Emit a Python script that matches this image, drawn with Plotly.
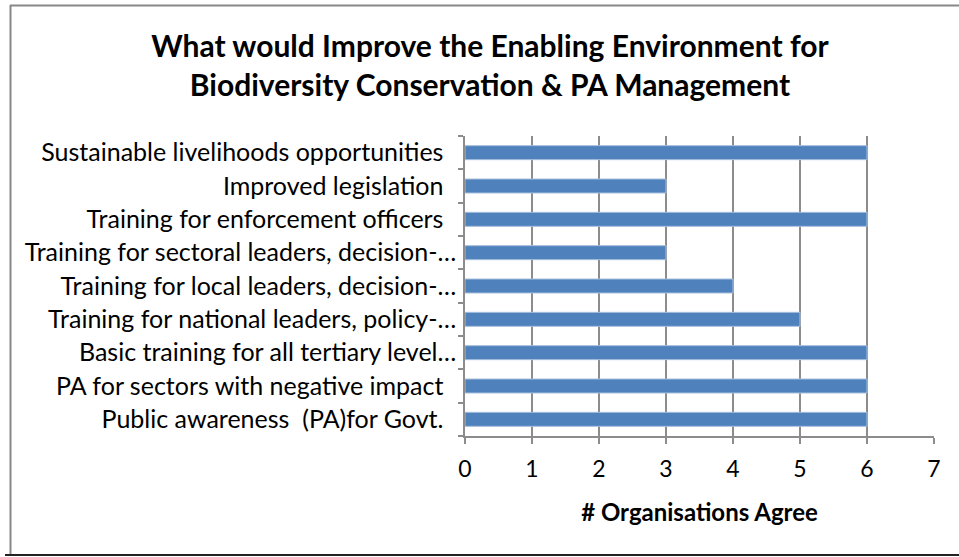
import plotly.graph_objects as go

# Survey responses: number of organisations agreeing with each measure
categories = [
    "Public awareness  (PA)for Govt.",
    "PA for sectors with negative impact",
    "Basic training for all tertiary level…",
    "Training for national leaders, policy-…",
    "Training for local leaders, decision-…",
    "Training for sectoral leaders, decision-…",
    "Training for enforcement officers",
    "Improved legislation",
    "Sustainable livelihoods opportunities",
]
agree_counts = [6, 6, 6, 5, 4, 3, 6, 3, 6]
x_ticks = [0, 1, 2, 3, 4, 5, 6, 7]

W, H = 959, 557
M_L, M_R, M_T, M_B = 465, 25, 136, 121
plot_w = W - M_L - M_R
plot_h = H - M_T - M_B


def px_x(px):
    return (px - M_L) / plot_w


def px_y(py):
    return (H - M_B - py) / plot_h


# pad the untruncated labels so they sit left of the ellipsis ones
labels = [c if c.endswith("…") else c + "\u00a0\u00a0" for c in categories]

fig = go.Figure(
    go.Bar(
        x=agree_counts,
        y=labels,
        orientation="h",
        marker=dict(color="#4F81BD", line=dict(color="#A7BFDE", width=1)),
        width=0.42,
    )
)

font_family = "Lato, 'Open Sans', sans-serif"

fig.update_layout(
    width=W,
    height=H,
    margin=dict(l=M_L, r=M_R, t=M_T, b=M_B, pad=0),
    paper_bgcolor="white",
    plot_bgcolor="white",
    showlegend=False,
    font=dict(family=font_family, color="black", size=25),
    title=dict(
        text="<b>What would Improve the Enabling Environment for<br>Biodiversity Conservation & PA Management</b>",
        x=490 / W,
        xanchor="center",
        y=1 - 57 / H,
        yanchor="middle",
        font=dict(family=font_family, size=30, color="black"),
    ),
    shapes=[
        # chart frame
        dict(type="line", xref="paper", yref="paper",
             x0=px_x(10.5), x1=px_x(10.5), y0=px_y(5), y1=px_y(555),
             line=dict(color="#888888", width=2)),
        dict(type="line", xref="paper", yref="paper",
             x0=px_x(10), x1=px_x(959), y0=px_y(5.5), y1=px_y(5.5),
             line=dict(color="#888888", width=2)),
        dict(type="line", xref="paper", yref="paper",
             x0=px_x(5), x1=px_x(959), y0=px_y(555), y1=px_y(555),
             line=dict(color="#222222", width=2)),
    ],
)

fig.update_xaxes(
    range=[0, 7],
    tickvals=x_ticks,
    ticktext=[str(v) for v in x_ticks],
    showgrid=True,
    gridcolor="#8C8C8C",
    gridwidth=1.5,
    showline=True,
    linecolor="#8C8C8C",
    linewidth=1.5,
    ticks="outside",
    ticklen=6,
    tickcolor="#8C8C8C",
    tickwidth=1.5,
    tickfont=dict(size=23),
    ticklabelstandoff=6,
    zeroline=False,
    title=dict(text="<b># Organisations Agree</b>", font=dict(size=24), standoff=23),
)

fig.update_yaxes(
    type="category",
    categoryorder="array",
    categoryarray=labels,
    range=[-0.5, len(labels) - 0.5],
    tickson="boundaries",
    showgrid=False,
    showline=True,
    linecolor="#8C8C8C",
    linewidth=1.5,
    ticks="outside",
    ticklen=5,
    tickcolor="#8C8C8C",
    tickwidth=1.5,
    tickfont=dict(size=25),
    ticklabelstandoff=2,
)

fig.write_html("out.html")
